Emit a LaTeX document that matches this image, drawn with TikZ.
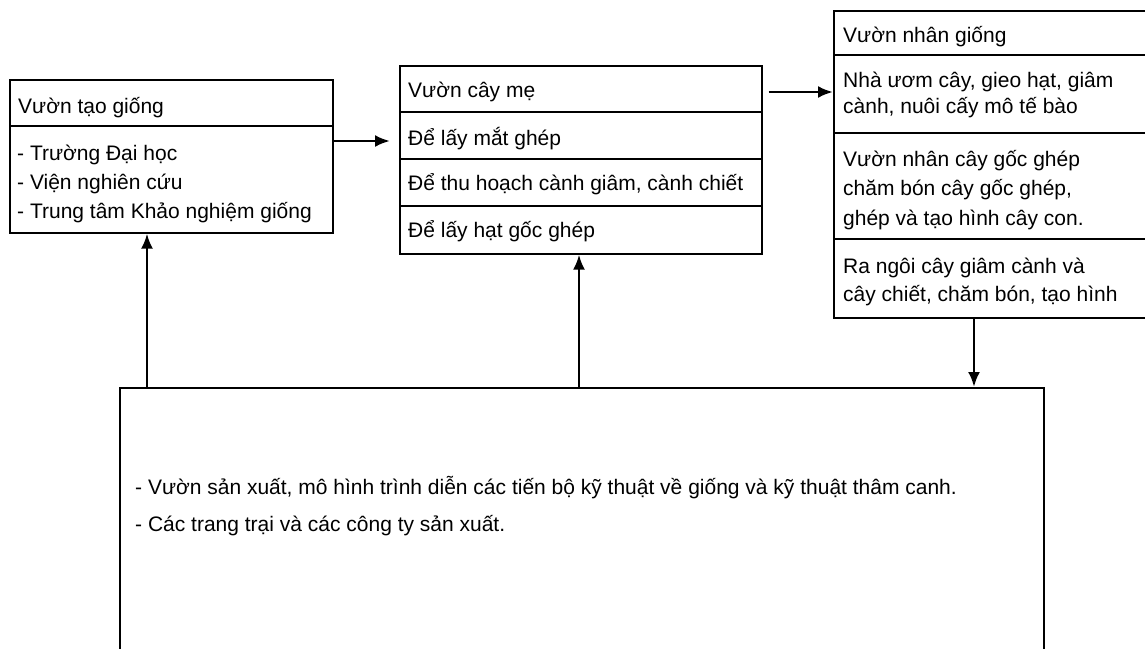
\documentclass[tikz,border=0pt]{standalone}
\usepackage{fontspec}
\setmainfont{Liberation Sans}
\usetikzlibrary{arrows.meta,calc}
\begin{document}
\begin{tikzpicture}[x=1pt,y=-1pt,
  boxnode/.style={draw,line width=1.6pt,rectangle,inner sep=0pt,anchor=north west},
  sepline/.style={line width=1.5pt},
  txt/.style={anchor=base west,inner sep=0pt,font=\fontsize{21}{25}\selectfont},
  btxt/.style={anchor=base west,inner sep=0pt,font=\fontsize{21}{25}\selectfont},
  arr/.style={line width=2.6pt,-{Latex[length=15pt,width=12pt]}}]
\useasboundingbox (0,0) rectangle (1145,648);
\clip (0,0) rectangle (1145,648);
% boxes
\node[boxnode,minimum width=323pt,minimum height=153pt] (L) at (9,79) {};
\node[boxnode,minimum width=362pt,minimum height=188pt] (M) at (399,65) {};
\node[boxnode,minimum width=330pt,minimum height=307pt] (R) at (833,10) {};
\node[boxnode,minimum width=924pt,minimum height=290pt] (B) at (119,387) {};
% separators
\draw[sepline] (L.north west |- 0,126) -- (L.north east |- 0,126);
\draw[sepline] (M.north west |- 0,112) -- (M.north east |- 0,112);
\draw[sepline] (M.north west |- 0,159) -- (M.north east |- 0,159);
\draw[sepline] (M.north west |- 0,206) -- (M.north east |- 0,206);
\draw[sepline] (R.north west |- 0,55) -- (R.north east |- 0,55);
\draw[sepline] (R.north west |- 0,133) -- (R.north east |- 0,133);
\draw[sepline] (R.north west |- 0,239) -- (R.north east |- 0,239);
% left texts
\node[txt] (l0) at (18,113) {Vườn tạo giống};
\node[txt] (l1) at (17,160) {- Trường Đại học};
\node[txt] (l2) at (17,189) {- Viện nghiên cứu};
\node[txt] (l3) at (17,218) {- Trung tâm Khảo nghiệm giống};
% middle texts
\node[txt] (m0) at (408,97) {Vườn cây mẹ};
\node[txt] (m1) at (408,145) {Để lấy mắt ghép};
\node[txt] (m2) at (408,190) {Để thu hoạch cành giâm, cành chiết};
\node[txt] (m3) at (408,237) {Để lấy hạt gốc ghép};
% right texts
\node[txt] (r0) at (843,42) {Vườn nhân giống};
\node[txt] (r1) at (843,87) {Nhà ươm cây, gieo hạt, giâm};
\node[txt] (r2) at (843,113) {cành, nuôi cấy mô tế bào};
\node[txt] (r3) at (843,166) {Vườn nhân cây gốc ghép};
\node[txt] (r4) at (843,195) {chăm bón cây gốc ghép,};
\node[txt] (r5) at (843,225) {ghép và tạo hình cây con.};
\node[txt] (r6) at (843,273) {Ra ngôi cây giâm cành và};
\node[txt] (r7) at (843,301) {cây chiết, chăm bón, tạo hình};
% bottom texts
\node[btxt] (b1) at (135,494) {- Vườn sản xuất, mô hình trình diễn các tiến bộ kỹ thuật về giống và kỹ thuật thâm canh.};
\node[btxt] (b2) at (135,531) {- Các trang trại và các công ty sản xuất.};
% arrow coordinates
\coordinate (y1) at (0,141);
\coordinate (y2) at (0,92);
\coordinate (x3) at (974,0);
\coordinate (x4) at (147,0);
\coordinate (x5) at (579,0);
% arrows
\draw[arr,shorten >=9pt] (L.east |- y1) -- (M.west |- y1);
\draw[arr,shorten <=6pt] (M.east |- y2) -- (R.west |- y2);
\draw[arr] (R.south west -| x3) -- (B.north west -| x3);
\draw[arr] (B.north west -| x4) -- (L.south west -| x4);
\draw[arr] (B.north west -| x5) -- (M.south west -| x5);
\end{tikzpicture}
\end{document}
